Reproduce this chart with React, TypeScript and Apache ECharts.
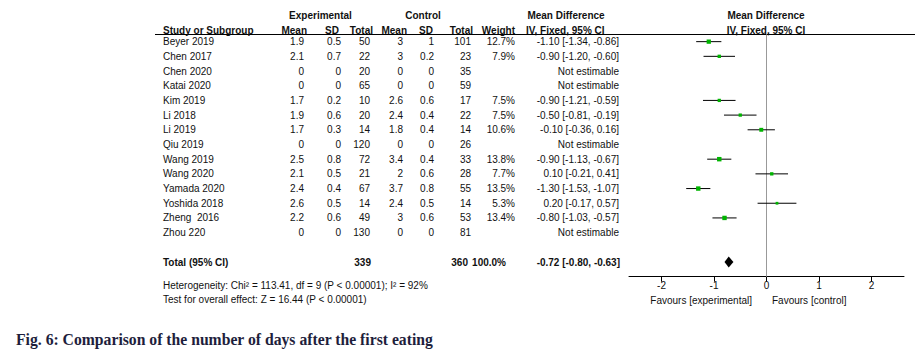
import React, { useEffect, useRef } from "react";
import * as echarts from "echarts";

const studies = ["Beyer 2019", "Chen 2017", "Chen 2020", "Katai 2020", "Kim 2019", "Li 2018", "Li 2019", "Qiu 2019", "Wang 2019", "Wang 2020", "Yamada 2020", "Yoshida 2018", "Zheng  2016", "Zhou 220"];
const expMean = [1.9, 2.1, 0, 0, 1.7, 1.9, 1.7, 0, 2.5, 2.1, 2.4, 2.6, 2.2, 0];
const expSD = [0.5, 0.7, 0, 0, 0.2, 0.6, 0.3, 0, 0.8, 0.5, 0.4, 0.5, 0.6, 0];
const expTotal = [50, 22, 20, 65, 10, 20, 14, 120, 72, 21, 67, 14, 49, 130];
const ctlMean = [3, 3, 0, 0, 2.6, 2.4, 1.8, 0, 3.4, 2, 3.7, 2.4, 3, 0];
const ctlSD = [1, 0.2, 0, 0, 0.6, 0.4, 0.4, 0, 0.4, 0.6, 0.8, 0.5, 0.6, 0];
const ctlTotal = [101, 23, 35, 59, 17, 22, 14, 26, 33, 28, 55, 14, 53, 81];
const weight: (number | null)[] = [12.7, 7.9, null, null, 7.5, 7.5, 10.6, null, 13.8, 7.7, 13.5, 5.3, 13.4, null];
const md: (number | null)[] = [-1.1, -0.9, null, null, -0.9, -0.5, -0.1, null, -0.9, 0.1, -1.3, 0.2, -0.8, null];
const ciLow: (number | null)[] = [-1.34, -1.2, null, null, -1.21, -0.81, -0.36, null, -1.13, -0.21, -1.53, -0.17, -1.03, null];
const ciHigh: (number | null)[] = [-0.86, -0.6, null, null, -0.59, -0.19, 0.16, null, -0.67, 0.41, -1.07, 0.57, -0.57, null];

const totalExp = 339;
const totalCtl = 360;
const totalWeight = "100.0%";
const totalMD = -0.72;
const totalLow = -0.8;
const totalHigh = -0.63;
const totalRow = 15;
const ticks = [-2, -1, 0, 1, 2];

const heterogeneity = "Heterogeneity: Chi² = 113.41, df = 9 (P < 0.00001); I² = 92%";
const overall = "Test for overall effect: Z = 16.44 (P < 0.00001)";
const caption = "Fig. 6: Comparison of the number of days after the first eating";

const FONT = "'Liberation Sans', Arial, sans-serif";
const FS = 10;
const TXT = "#111";
const GREEN = "#00b400";

const fmtCI = (m: number, l: number, h: number) => `${m.toFixed(2)} [${l.toFixed(2)}, ${h.toFixed(2)}]`;

export default function App() {
  const ref = useRef<HTMLDivElement>(null);
  useEffect(() => {
    document.body.style.margin = "0";
    const chart = echarts.init(ref.current!, null, { renderer: "svg" });

    const txt = (x: number, y: number, text: string, align: string, bold = false, extra: any = {}) => ({
      type: "text",
      style: {
        x, y, text, align, verticalAlign: "middle",
        fontFamily: FONT, fontSize: FS, fontWeight: bold ? "bold" : "normal", fill: TXT, ...extra,
      },
    });

    const tableData = studies.map((_, i) => [0, i]);
    const forestData: number[][] = [];
    studies.forEach((_, i) => {
      if (md[i] !== null) forestData.push([md[i] as number, i, ciLow[i] as number, ciHigh[i] as number, weight[i] as number]);
    });

    const option: any = {
      animation: false,
      grid: { left: 629, right: 15, top: 34.3, bottom: 76.3 },
      xAxis: {
        type: "value", min: -2.62, max: 2.62, position: "bottom",
        axisLine: { show: true, onZero: false, lineStyle: { color: "#000", width: 1 } },
        axisTick: { show: true, length: 5, customValues: ticks, lineStyle: { color: "#000" } },
        axisLabel: { customValues: ticks, fontSize: FS, fontFamily: FONT, color: TXT, margin: 4, formatter: (v: number) => String(v) },
        splitLine: { show: false },
      },
      yAxis: { type: "value", min: -0.5, max: 16, inverse: true, show: false },
      series: [
        {
          type: "line", data: [[0, -0.5], [0, 16]], symbol: "none",
          lineStyle: { color: "#999", width: 1 }, z: 1, silent: true,
        },
        {
          type: "custom", clip: false, data: tableData, encode: { x: 0, y: 1 }, silent: true,
          renderItem: (params: any, api: any) => {
            const i = params.dataIndex;
            const y = api.coord([0, api.value(1)])[1];
            const cells: any[] = [
              txt(163, y, studies[i], "left"),
              txt(304, y, String(expMean[i]), "right"),
              txt(341, y, String(expSD[i]), "right"),
              txt(370, y, String(expTotal[i]), "right"),
              txt(403, y, String(ctlMean[i]), "right"),
              txt(434, y, String(ctlSD[i]), "right"),
              txt(471, y, String(ctlTotal[i]), "right"),
            ];
            if (weight[i] !== null) {
              cells.push(txt(515, y, (weight[i] as number).toFixed(1) + "%", "right"));
              cells.push(txt(619, y, fmtCI(md[i] as number, ciLow[i] as number, ciHigh[i] as number), "right"));
            } else {
              cells.push(txt(619, y, "Not estimable", "right"));
            }
            return { type: "group", children: cells };
          },
        },
        {
          type: "custom", clip: false, data: [[totalMD, totalRow, totalLow, totalHigh]], encode: { x: 0, y: 1 }, silent: true,
          renderItem: (params: any, api: any) => {
            const r = api.value(1);
            const y = api.coord([0, r])[1];
            const c = api.coord([api.value(0), r]);
            const l = api.coord([api.value(2), r]);
            const h = api.coord([api.value(3), r]);
            return {
              type: "group",
              children: [
                txt(163, y, "Total (95% CI)", "left", true),
                txt(371, y, String(totalExp), "right", true),
                txt(468, y, String(totalCtl), "right", true),
                txt(506, y, totalWeight, "right", true),
                txt(620, y, fmtCI(api.value(0), api.value(2), api.value(3)), "right", true),
                {
                  type: "polygon",
                  shape: { points: [[l[0], c[1]], [c[0], c[1] - 5.5], [h[0], c[1]], [c[0], c[1] + 5.5]] },
                  style: { fill: "#000" },
                },
              ],
            };
          },
        },
        {
          type: "custom", clip: false, data: forestData, encode: { x: 0, y: 1 }, z: 3, silent: true,
          renderItem: (params: any, api: any) => {
            const r = api.value(1);
            const p0 = api.coord([api.value(2), r]);
            const p1 = api.coord([api.value(3), r]);
            const c = api.coord([api.value(0), r]);
            const s = 1.2 * Math.sqrt(api.value(4));
            return {
              type: "group",
              children: [
                { type: "line", shape: { x1: p0[0], y1: p0[1], x2: p1[0], y2: p1[1] }, style: { stroke: "#000", lineWidth: 1 } },
                { type: "rect", shape: { x: c[0] - s / 2, y: c[1] - s / 2, width: s, height: s }, style: { fill: GREEN } },
              ],
            };
          },
        },
      ],
      graphic: [
        { type: "line", shape: { x1: 155, y1: 34.5, x2: 915, y2: 34.5 }, style: { stroke: "#000", lineWidth: 1 } },
        txt(320.5, 15, "Experimental", "center", true),
        txt(423, 15, "Control", "center", true),
        txt(566, 15, "Mean Difference", "center", true),
        txt(766, 15, "Mean Difference", "center", true),
        txt(163, 30, "Study or Subgroup", "left", true),
        txt(307, 30, "Mean", "right", true),
        txt(339, 30, "SD", "right", true),
        txt(373, 30, "Total", "right", true),
        txt(407, 30, "Mean", "right", true),
        txt(433, 30, "SD", "right", true),
        txt(473, 30, "Total", "right", true),
        txt(515, 30, "Weight", "right", true),
        txt(526, 30, "IV, Fixed, 95% CI", "left", true),
        txt(766, 30, "IV, Fixed, 95% CI", "center", true),
        txt(163, 285, heterogeneity, "left"),
        txt(163, 299, overall, "left"),
        txt(752, 300, "Favours [experimental]", "right"),
        txt(772, 300, "Favours [control]", "left"),
        {
          type: "text",
          style: {
            x: 16, y: 339, text: caption, align: "left", verticalAlign: "middle",
            fontFamily: "'Liberation Serif', 'Times New Roman', serif", fontSize: 15.7, fontWeight: "bold", fill: "#1e1e3c",
          },
        },
      ],
    };
    chart.setOption(option);
    return () => chart.dispose();
  }, []);
  return <div ref={ref} style={{ width: 919, height: 353, position: "absolute", left: 0, top: 0 }} />;
}
